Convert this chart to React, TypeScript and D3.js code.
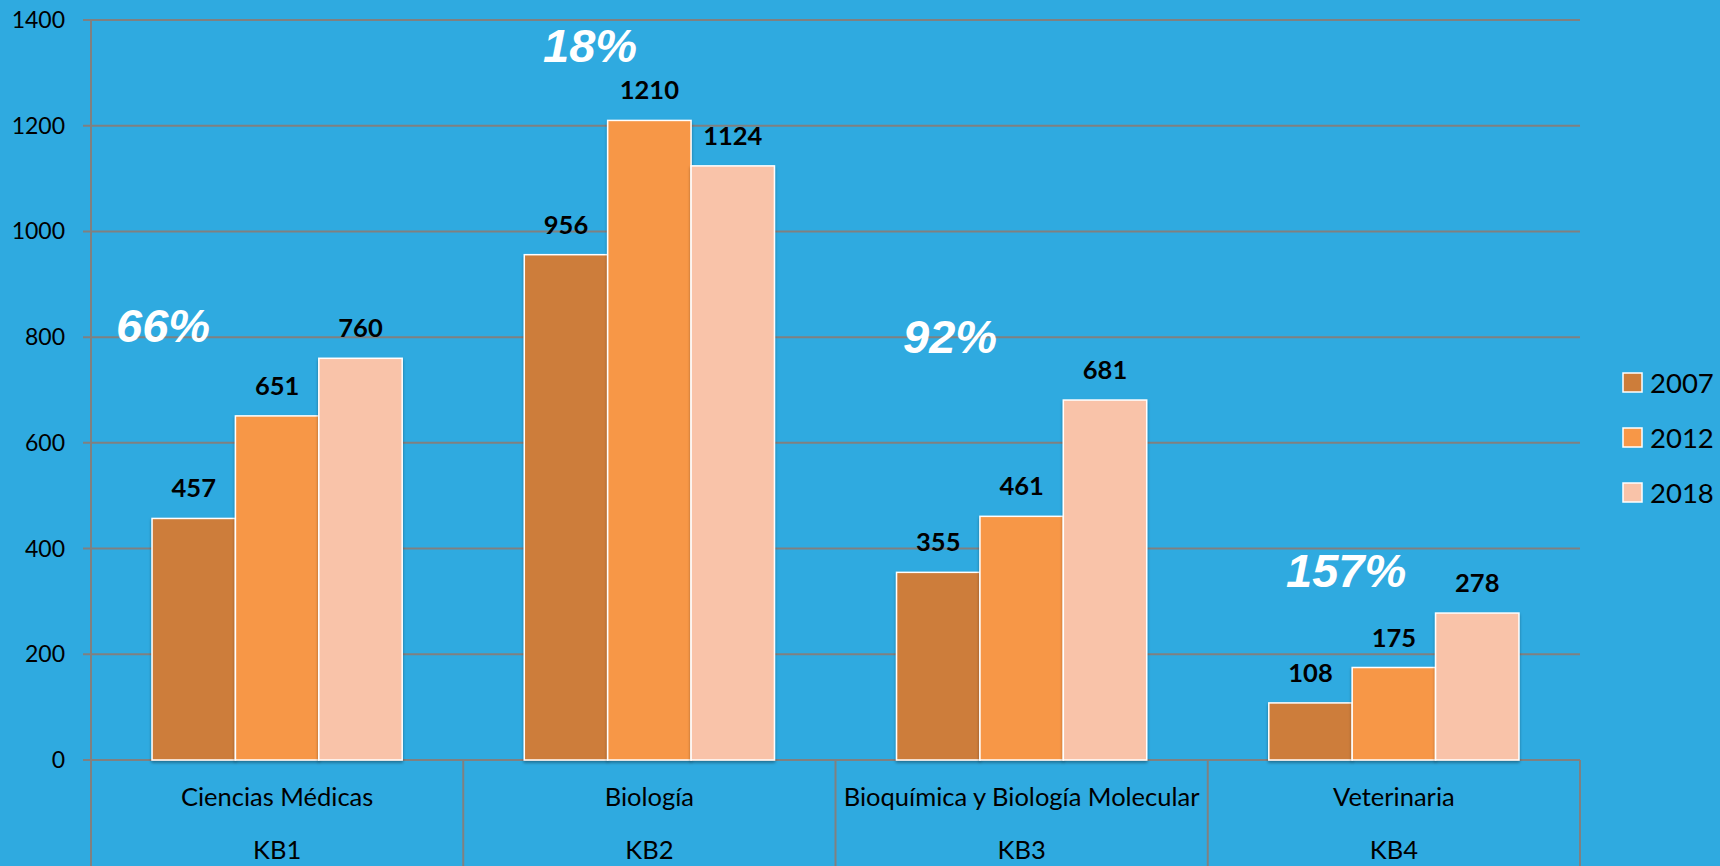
import React from "react";
import * as d3 from "d3";

const categories = ["Ciencias Médicas", "Biología", "Bioquímica y Biología Molecular", "Veterinaria"];
const codes = ["KB1", "KB2", "KB3", "KB4"];
const seriesNames = ["2007", "2012", "2018"];
const values2007 = [457, 956, 355, 108];
const values2012 = [651, 1210, 461, 175];
const values2018 = [760, 1124, 681, 278];
const growth = ["66%", "18%", "92%", "157%"];
const yTicks = [0, 200, 400, 600, 800, 1000, 1200, 1400];

const W = 1720, H = 866;
const BG = "#2FAAE0";
const GRID = "#808080";
const COLORS = ["#CD7D3A", "#F79747", "#F9C3A9"];
const FONT = "Lato, 'Open Sans', sans-serif";
const PCT_FONT = "'Liberation Sans', Arial, sans-serif";

// growth-label anchor positions (left x, baseline y) in pixels
const growthPos = [
  { x: 116, y: 342 },
  { x: 543, y: 62 },
  { x: 903, y: 353 },
  { x: 1286, y: 587 },
];

export default function App() {
  const left = 91, right = 1580, top = 20, bottom = 760;
  const y = d3.scaleLinear().domain([0, 1400]).range([bottom, top]);
  const x0 = d3.scaleBand<string>().domain(categories).range([left, right]).padding(0);
  const bw = x0.bandwidth();
  const x1 = d3.scaleBand<string>().domain(seriesNames).range([bw * 0.164, bw * 0.836]).padding(0);
  const series = [values2007, values2012, values2018];
  const boundaries = categories.map((c) => x0(c)!).concat([right]);

  return (
    <svg width={W} height={H} style={{ position: "fixed", left: 0, top: 0 }}>
      <defs>
        <filter id="sh" x="-10%" y="-10%" width="120%" height="120%">
          <feDropShadow dx="0" dy="2" stdDeviation="1.5" floodColor="#000" floodOpacity="0.35" />
        </filter>
      </defs>
      <rect x={0} y={0} width={W} height={H} fill={BG} />
      {yTicks.map((t) => (
        <g key={t}>
          <line x1={left - 8} x2={right} y1={y(t)} y2={y(t)} stroke={GRID} strokeWidth={2} />
          <text x={65} y={y(t) + 8} textAnchor="end" fontFamily={FONT} fontSize={23} fill="#000">
            {t}
          </text>
        </g>
      ))}
      <line x1={left} x2={left} y1={top} y2={H} stroke={GRID} strokeWidth={2} />
      {boundaries.slice(1).map((bx, i) => (
        <line key={i} x1={bx} x2={bx} y1={bottom} y2={H} stroke={GRID} strokeWidth={2} />
      ))}
      {categories.map((c, ci) => (
        <g key={c} transform={`translate(${x0(c)},0)`}>
          {series.map((vals, si) => (
            <rect
              key={si}
              x={x1(seriesNames[si])}
              y={y(vals[ci])}
              width={x1.bandwidth()}
              height={bottom - y(vals[ci])}
              fill={COLORS[si]}
              stroke="#fff"
              strokeWidth={1.5}
              filter="url(#sh)"
            />
          ))}
          {series.map((vals, si) => (
            <text
              key={"l" + si}
              x={x1(seriesNames[si])! + x1.bandwidth() / 2}
              y={y(vals[ci]) - 21}
              textAnchor="middle"
              fontFamily={FONT}
              fontWeight="bold"
              fontSize={25.5}
              fill="#000"
            >
              {vals[ci]}
            </text>
          ))}
          <text x={bw / 2} y={806} textAnchor="middle" fontFamily={FONT} fontSize={25.5} fill="#000">
            {c}
          </text>
          <text x={bw / 2} y={859} textAnchor="middle" fontFamily={FONT} fontSize={25.5} fill="#000">
            {codes[ci]}
          </text>
        </g>
      ))}
      {growth.map((g, i) => (
        <text
          key={g}
          x={growthPos[i].x}
          y={growthPos[i].y}
          fontFamily={PCT_FONT}
          fontWeight="bold"
          fontStyle="italic"
          fontSize={47}
          fill="#fff"
        >
          {g}
        </text>
      ))}
      {seriesNames.map((s, i) => (
        <g key={s} transform={`translate(1623,${373 + i * 55})`}>
          <rect x={0} y={0} width={19} height={19} fill={COLORS[i]} stroke="#fff" strokeWidth={1.5} />
          <text x={27} y={20} fontFamily={FONT} fontSize={27.5} fill="#000">
            {s}
          </text>
        </g>
      ))}
    </svg>
  );
}
